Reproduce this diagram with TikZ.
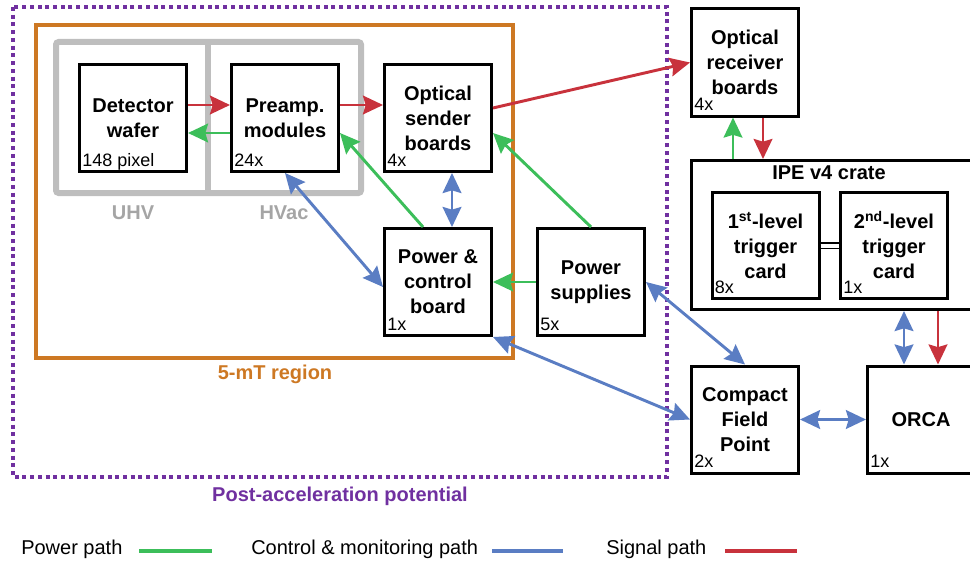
\documentclass[tikz,border=0pt]{standalone}
\usepackage{fontspec}
\setmainfont{Liberation Sans}
\usetikzlibrary{arrows.meta}
\definecolor{pwrgreen}{RGB}{60,190,90}
\definecolor{ctlblue}{RGB}{90,125,195}
\definecolor{sigred}{RGB}{200,50,60}
\definecolor{fieldorange}{RGB}{205,120,35}
\definecolor{pacpurple}{RGB}{112,48,160}
\definecolor{zonegray}{RGB}{190,190,190}
\definecolor{zonetext}{RGB}{165,165,165}
\tikzset{
  blk/.style={draw, line width=2.25pt, minimum width=80.25pt, minimum height=80.25pt,
    align=center, inner sep=1pt, font=\fontsize{15}{18.75}\selectfont\bfseries},
  cnt/.style={anchor=base west, inner sep=0pt, font=\fontsize{13.5}{16}\selectfont},
  pwr/.style={line width=2.2pt, color=pwrgreen},
  ctl/.style={line width=2.2pt, color=ctlblue},
  sig/.style={line width=2.2pt, color=sigred},
  zone/.style={line width=4.5pt, zonegray, rounded corners=2pt},
  ttl/.style={font=\fontsize{15}{18}\selectfont\bfseries},
  leg/.style={anchor=west, inner sep=0pt, font=\fontsize{15}{18}\selectfont}
}

\begin{document}
\begin{tikzpicture}[x=0.75pt, y=-0.75pt, >={Stealth[length=15pt,width=14pt,inset=2pt]}]
  \useasboundingbox (0,0) rectangle (970,560);
  \draw[pacpurple, line width=3pt, dash pattern=on 3pt off 2.8pt] (13,7) rectangle (667,477);
  \draw[fieldorange, line width=3pt] (36,25) rectangle (513,358);
  \draw[zone] (56,42) rectangle (361,193);
  \draw[zone] (208,42) -- (208,193);
  \node[ttl, text=zonetext] (uhv) at (133,213) {UHV};
  \node[ttl, text=zonetext] (hvac) at (284,213) {HVac};
  \node[ttl, text=fieldorange] (field) at (275,374) {5-mT region};
  \node[ttl, text=pacpurple] (pac) at (340,496) {Post-acceleration potential};

  \node[blk] (wafer) at (133,118) {Detector\\wafer};
  \node[cnt] (wafer-n) at ([shift={(3pt,5.25pt)}]wafer.south west) {148 pixel};
  \node[blk] (preamp) at (285,118) {Preamp.\\modules};
  \node[cnt] (preamp-n) at ([shift={(3pt,5.25pt)}]preamp.south west) {24x};
  \node[blk] (sender) at (438,118) {Optical\\sender\\boards};
  \node[cnt] (sender-n) at ([shift={(3pt,5.25pt)}]sender.south west) {4x};
  \node[blk] (pcb) at (438,282) {Power \&\\control\\board};
  \node[cnt] (pcb-n) at ([shift={(3pt,5.25pt)}]pcb.south west) {1x};
  \node[blk] (psu) at (591,282) {Power\\supplies};
  \node[cnt] (psu-n) at ([shift={(3pt,5.25pt)}]psu.south west) {5x};
  \node[blk] (receiver) at (745,62.5) {Optical\\receiver\\boards};
  \node[cnt] (receiver-n) at ([shift={(3pt,5.25pt)}]receiver.south west) {4x};
  \node[blk] (cfp) at (745,419.5) {Compact\\Field\\Point};
  \node[cnt] (cfp-n) at ([shift={(3pt,5.25pt)}]cfp.south west) {2x};
  \node[blk] (orca) at (921,419.5) {ORCA};
  \node[cnt] (orca-n) at ([shift={(3pt,5.25pt)}]orca.south west) {1x};
  \node[draw, line width=2.25pt, minimum width=211.5pt, minimum height=111.75pt] (crate) at (832.5,235) {};
  \node[ttl] (crate-t) at (829,173) {IPE v4 crate};
  \node[blk, minimum height=79.5pt] (first) at (765.5,245.5) {1\textsuperscript{st}-level\\trigger\\card};
  \node[cnt] (first-n) at ([shift={(3pt,5.25pt)}]first.south west) {8x};
  \node[blk, minimum height=79.5pt] (second) at (894,245.5) {2\textsuperscript{nd}-level\\trigger\\card};
  \node[cnt] (second-n) at ([shift={(3pt,5.25pt)}]second.south west) {1x};

  \draw[double, double distance=3pt, line width=1pt] (first.east) -- (second.west);

  \draw[sig,->] ([yshift=9.75pt]wafer.east) -- ([yshift=9.75pt]preamp.west);
  \draw[pwr,->] ([yshift=-11.25pt]preamp.west) -- ([yshift=-11.25pt]wafer.east);
  \draw[sig,->] ([yshift=9.75pt]preamp.east) -- ([yshift=9.75pt]sender.west);
  \draw[sig,->] ([yshift=7.5pt]sender.east) -- (receiver.west);
  \draw[pwr,->] ([xshift=-11.25pt]pcb.north) -- ([yshift=-11.25pt]preamp.east);
  \draw[pwr,->] (psu.north) -- ([yshift=-11.25pt]sender.east);
  \draw[ctl,<->] ([xshift=10.5pt]sender.south) -- ([xshift=10.5pt]pcb.north);
  \draw[ctl,<->] (preamp.south) -- ([yshift=-3.75pt]pcb.west);
  \draw[pwr,->] (psu.west) -- (pcb.east);
  \draw[ctl,<->] (psu.east) -- (cfp.north);
  \draw[ctl,<->] (pcb.south east) -- (cfp.west);
  \draw[ctl,<->] (cfp.east) -- (orca.west);
  \draw[pwr,->] ([xshift=-9pt]receiver.south |- crate.north) -- ([xshift=-9pt]receiver.south);
  \draw[sig,->] ([xshift=13.5pt]receiver.south) -- ([xshift=13.5pt]receiver.south |- crate.north);
  \draw[ctl,<->] ([xshift=-12.75pt]orca.north |- crate.south) -- ([xshift=-12.75pt]orca.north);
  \draw[sig,->] ([xshift=12.75pt]orca.north |- crate.south) -- ([xshift=12.75pt]orca.north);

  \node[leg] (leg-pwr) at (21,549) {Power path};
  \draw[pwr, line width=3pt] (139,551) -- (212,551);
  \node[leg] (leg-ctl) at (251,549) {Control \& monitoring path};
  \draw[ctl, line width=3pt] (492,551) -- (563,551);
  \node[leg] (leg-sig) at (606,549) {Signal path};
  \draw[sig, line width=3pt] (725,551) -- (797,551);
\end{tikzpicture}
\end{document}
